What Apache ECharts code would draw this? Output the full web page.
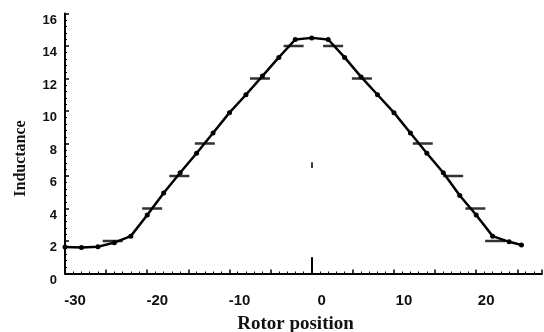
<!DOCTYPE html>
<html>
<head>
<meta charset="utf-8">
<script src="https://cdn.jsdelivr.net/npm/echarts@6/dist/echarts.min.js"></script>
<style>html,body{margin:0;padding:0;background:#fff;}#c{width:544px;height:332px;}</style>
</head>
<body>
<div id="c"></div>
<script>
// Rotor position (x) and inductance (y) of the measured curve
const rotorPosition = [-30,-28,-26,-24,-22,-20,-18,-16,-14,-12,-10,-8,-6,-4,-2,0,2,4,6,8,10,12,14,16,18,20,22,24,25.5];
const inductance = [1.63,1.6,1.65,1.9,2.3,3.6,4.95,6.2,7.4,8.65,9.9,11.0,12.15,13.3,14.4,14.5,14.4,13.3,12.1,11.0,9.9,8.65,7.4,6.2,4.8,3.6,2.3,1.95,1.75];
// horizontal dash markers
const dashPosition = [-24.2,-19.4,-16.1,-13.0,-6.3,-2.2,2.6,6.1,13.5,17.2,19.9,22.3];
const dashInductance = [2,4,6,8,12,14,14,12,8,6,4,2];
// tick labels
const xLabels = [-30,-20,-10,0,10,20];
const yLabels = [0,2,4,6,8,10,12,14,16];

const chart = echarts.init(document.getElementById('c'), null, {renderer:'canvas'});
const bold = {fontFamily:'Liberation Sans, Arial, sans-serif', fontWeight:'bold', color:'#111'};
chart.setOption({
  animation:false,
  backgroundColor:'#fff',
  grid:{left:65, right:2, top:13.5, bottom:58.5, containLabel:false, outerBoundsMode:'none'},
  xAxis:{
    type:'value', min:-30, max:28, interval:5,
    name:'Rotor position', nameLocation:'middle', nameGap:41,
    nameTextStyle:{fontFamily:'Liberation Serif, Times New Roman, serif', fontWeight:'bold', fontSize:19, color:'#111', padding:[0,16,0,0]},
    axisLine:{show:true, onZero:false, lineStyle:{color:'#000', width:2}},
    axisTick:{show:true, inside:true, length:4, lineStyle:{color:'#000', width:1.5}},
    minorTick:{show:true, splitNumber:5, length:2, lineStyle:{color:'#000', width:1}},
    axisLabel:Object.assign({fontSize:15, margin:20, padding:[0,0,0,20],
      formatter:v => (xLabels.indexOf(v) >= 0 ? String(v) : '')}, bold),
    splitLine:{show:false}
  },
  yAxis:{
    type:'value', min:0, max:16, interval:2,
    name:'Inductance', nameLocation:'middle', nameGap:36, nameRotate:90,
    nameTextStyle:{fontFamily:'Liberation Serif, Times New Roman, serif', fontWeight:'bold', fontSize:16, color:'#111', padding:[0,30,0,0]},
    axisLine:{show:true, onZero:false, lineStyle:{color:'#000', width:2}},
    axisTick:{show:true, inside:true, length:4, lineStyle:{color:'#000', width:1.5}},
    minorTick:{show:true, splitNumber:5, length:2, lineStyle:{color:'#000', width:1}},
    axisLabel:Object.assign({fontSize:13, margin:8, verticalAlign:'top',
      formatter:v => (yLabels.indexOf(v) >= 0 ? String(v) : '')}, bold),
    splitLine:{show:false}
  },
  series:[
    {
      type:'line',
      data:rotorPosition.map((x,i)=>[x, inductance[i]]),
      symbol:'circle', symbolSize:5,
      itemStyle:{color:'#000'},
      lineStyle:{color:'#000', width:2.5},
      markLine:{
        silent:true, symbol:'none', label:{show:false},
        lineStyle:{color:'#000', width:2, type:'solid'},
        data:[
          [{coord:[0,0]},{coord:[0,1.0]}],
          [{coord:[0,6.5], lineStyle:{width:1.5}},{coord:[0,6.85]}]
        ]
      }
    },
    {
      type:'scatter',
      data:dashPosition.map((x,i)=>[x, dashInductance[i]]),
      symbol:'rect', symbolSize:[20,2.5],
      itemStyle:{color:'#000'}
    }
  ]
});
</script>
</body>
</html>
